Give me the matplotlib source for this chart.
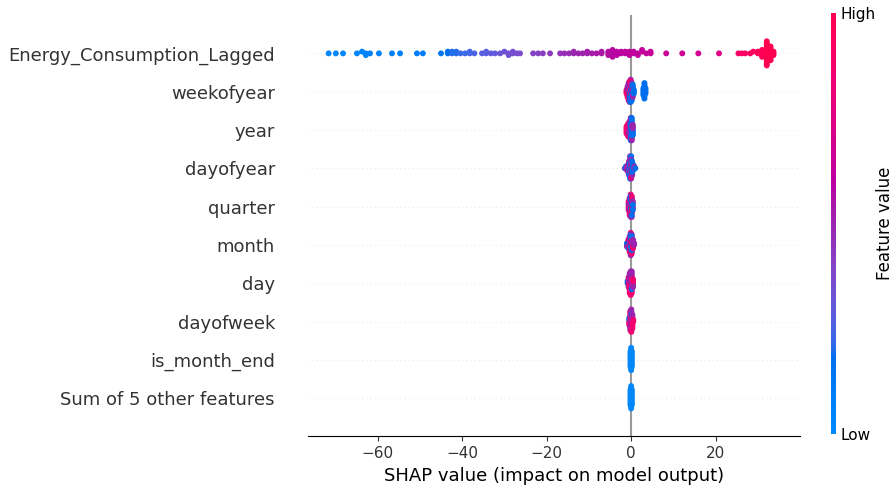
import numpy as np
import matplotlib
matplotlib.use('Agg')
import matplotlib.pyplot as plt
from matplotlib.colors import LinearSegmentedColormap

# Feature names, top row first
features = ['Energy_Consumption_Lagged', 'weekofyear', 'year', 'dayofyear', 'quarter',
            'month', 'day', 'dayofweek', 'is_month_end', 'Sum of 5 other features']

# feature value levels used below (0 = low, 1 = high)
R, P, B, L = 0.85, 0.5, 0.18, 0.02

# each row: (shap value, number of points at that value, feature value)
lagged = [(-71.6, 1, 0.02), (-69.9, 1, 0.02), (-68.2, 1, 0.03), (-64.9, 1, 0.04), (-63.7, 1, 0.05),
          (-62.8, 2, 0.05), (-61.8, 1, 0.06), (-59.7, 1, 0.07), (-56.6, 1, 0.08), (-54.7, 1, 0.08),
          (-50.7, 1, 0.10), (-49.3, 1, 0.10), (-45.0, 1, 0.15), (-43.4, 2, 0.18), (-42.4, 2, 0.20),
          (-41.4, 2, 0.20), (-40.4, 1, 0.22), (-39.3, 1, 0.22), (-38.2, 2, 0.24), (-37.1, 1, 0.25),
          (-35.3, 1, 0.28), (-34.3, 2, 0.28), (-33.2, 1, 0.30), (-32.2, 1, 0.30), (-31.0, 1, 0.32),
          (-30.0, 1, 0.33), (-29.0, 2, 0.34), (-28.0, 2, 0.35), (-27.0, 1, 0.36), (-26.3, 1, 0.36),
          (-23.2, 1, 0.40), (-22.0, 1, 0.41), (-20.9, 1, 0.42), (-19.2, 1, 0.43), (-16.8, 1, 0.46),
          (-15.8, 1, 0.47), (-14.7, 1, 0.48), (-13.6, 2, 0.49), (-12.5, 1, 0.50), (-11.5, 1, 0.50),
          (-10.4, 2, 0.52), (-9.3, 1, 0.53), (-8.2, 1, 0.54), (-7.0, 2, 0.55), (-5.4, 3, 0.57),
          (-4.4, 5, 0.58), (-3.4, 3, 0.59), (-2.4, 2, 0.60), (-1.4, 2, 0.60), (-0.4, 3, 0.61),
          (0.6, 2, 0.62), (1.6, 2, 0.62), (2.6, 2, 0.63), (3.6, 1, 0.63), (4.6, 2, 0.64),
          (8.3, 1, 0.66), (12.1, 1, 0.68), (15.9, 1, 0.70), (20.8, 1, 0.75), (25.4, 1, 0.90),
          (26.2, 1, 0.92), (27.0, 1, 0.93), (28.2, 1, 0.94), (28.9, 1, 0.95), (30.0, 2, 0.97),
          (31.0, 5, 0.98), (32.1, 15, 1.0), (33.0, 9, 1.0), (33.7, 3, 1.0)]
weekofyear = [(-1.1, 3, R), (-0.85, 5, R), (-0.85, 2, P), (-0.6, 6, R), (-0.6, 5, P), (-0.35, 6, P),
              (-0.35, 4, R), (-0.35, 3, B), (-0.1, 6, P), (-0.1, 5, B), (-0.1, 3, R), (0.15, 6, B),
              (0.15, 5, P), (0.4, 5, B), (0.4, 3, P), (0.65, 3, B), (2.9, 5, B), (3.15, 10, B), (3.4, 4, B)]
year = [(-1.1, 5, R), (-0.85, 7, R), (-0.6, 8, R), (-0.6, 1, P), (-0.35, 4, R), (-0.35, 6, P),
        (-0.1, 8, P), (-0.1, 6, B), (0.15, 6, P), (0.15, 8, B), (0.4, 4, B), (0.4, 3, P)]
dayofyear = [(-1.5, 1, P), (-1.25, 2, B), (-1.0, 3, P), (-0.75, 5, P), (-0.5, 7, P), (-0.5, 2, B),
             (-0.25, 8, P), (-0.25, 6, B), (0.0, 7, B), (0.0, 5, P), (0.0, 2, R), (0.25, 6, P),
             (0.25, 3, B), (0.5, 4, B), (0.75, 2, P), (1.0, 1, B)]
quarter = [(-0.6, 4, R), (-0.6, 2, P), (-0.35, 6, R), (-0.35, 5, P), (-0.1, 6, R), (-0.1, 5, P),
           (-0.1, 3, B), (0.15, 6, P), (0.15, 5, R), (0.15, 2, B), (0.4, 4, P), (0.4, 2, B)]
month = [(-1.0, 2, P), (-1.0, 1, B), (-0.65, 4, R), (-0.65, 2, B), (-0.35, 5, R), (-0.35, 5, P),
         (-0.1, 6, R), (-0.1, 5, P), (-0.1, 3, B), (0.15, 5, P), (0.15, 4, R), (0.15, 3, B),
         (0.45, 3, R), (0.45, 3, P), (0.7, 2, P)]
day = [(-0.85, 2, B), (-0.6, 4, R), (-0.6, 2, P), (-0.35, 6, R), (-0.35, 5, P), (-0.1, 7, R),
       (-0.1, 6, P), (0.15, 5, R), (0.15, 6, P), (0.15, 1, B), (0.45, 3, P), (0.45, 2, R)]
dayofweek = [(-0.45, 3, R), (-0.45, 2, B), (-0.2, 7, R), (-0.2, 5, P), (0.05, 6, R), (0.05, 7, P),
             (0.05, 1, B), (0.3, 5, R), (0.3, 4, P), (0.5, 2, R)]
is_month_end = [(-0.15, 10, L), (0.0, 14, L), (0.15, 10, L)]
other = [(-0.15, 10, L), (0.0, 14, L), (0.15, 10, L)]

rows = [lagged, weekofyear, year, dayofyear, quarter, month, day, dayofweek, is_month_end, other]


# shap-style red/blue colormap, interpolated in LCH space
def lch_to_rgb(l, c, h):
    a = c * np.cos(h)
    b = c * np.sin(h)
    fy = (l + 16) / 116
    fx = fy + a / 500
    fz = fy - b / 200

    def finv(t):
        return np.where(t > 0.2068966, t ** 3, (t - 16 / 116) / 7.787)

    X = 0.95047 * finv(fx)
    Y = finv(fy)
    Z = 1.08883 * finv(fz)
    r = 3.24048134 * X - 1.53715152 * Y - 0.49853633 * Z
    g = -0.96925495 * X + 1.87599 * Y + 0.04155593 * Z
    bl = 0.05564664 * X - 0.20404134 * Y + 1.05731107 * Z
    rgb = np.array([r, g, bl])
    rgb = np.where(rgb > 0.0031308, 1.055 * np.abs(rgb) ** (1 / 2.4) - 0.055, 12.92 * rgb)
    return np.clip(rgb, 0, 1)


blue_lch = [54., 70., 4.6588]
red_lch = [54., 90., 0.35470565 + 2 * np.pi]
l_mid = 40.
nsteps = 100
l_vals = list(np.linspace(blue_lch[0], l_mid, nsteps // 2)) + list(np.linspace(l_mid, red_lch[0], nsteps // 2))
c_vals = np.linspace(blue_lch[1], red_lch[1], nsteps)
h_vals = np.linspace(blue_lch[2], red_lch[2], nsteps)
cmap = LinearSegmentedColormap.from_list('red_blue', [lch_to_rgb(l, c, h) for l, c, h in zip(l_vals, c_vals, h_vals)])


# beeswarm vertical offsets (same binning idea as shap)
def swarm(groups, row_height=0.4, nbins=100):
    shaps, vals, mix = [], [], []
    for i, (x, n, v) in enumerate(groups):
        for k in range(n):
            shaps.append(x)
            vals.append(v)
            mix.append((k + 0.5) / n + i * 1e-6)
    shaps = np.array(shaps)
    vals = np.array(vals)
    quant = np.round(nbins * (shaps - shaps.min()) / (shaps.max() - shaps.min() + 1e-8))
    inds = np.lexsort((np.array(mix), quant))
    ys = np.zeros(len(shaps))
    layer = 0
    last_bin = -1
    for ind in inds:
        if quant[ind] != last_bin:
            layer = 0
        ys[ind] = np.ceil(layer / 2) * ((layer % 2) * 2 - 1)
        layer += 1
        last_bin = quant[ind]
    ys *= 0.9 * (row_height / np.max(ys + 1))
    return shaps, ys, vals


fig = plt.figure(figsize=(8.94, 4.86), dpi=100)
ax = fig.add_axes([0.344, 0.102, 0.551, 0.867])
axis_color = '#333333'

n = len(features)
for i, groups in enumerate(rows):
    pos = n - 1 - i
    ax.axhline(y=pos, color='#cccccc', lw=0.5, dashes=(1, 5), zorder=-1)
    shaps, ys, vals = swarm(groups)
    ax.scatter(shaps, pos + ys, c=vals, cmap=cmap, vmin=0, vmax=1, s=18, linewidth=0, zorder=3)

ax.axvline(x=0, color='#999999', zorder=-1)

ax.xaxis.set_ticks_position('bottom')
ax.yaxis.set_ticks_position('none')
ax.spines['right'].set_visible(False)
ax.spines['top'].set_visible(False)
ax.spines['left'].set_visible(False)
ax.tick_params(color=axis_color, labelcolor=axis_color)
ax.set_yticks(range(n))
ax.set_yticklabels(list(reversed(features)), fontsize=13)
ax.tick_params('y', length=20, width=0.5, which='major')
ax.tick_params('x', labelsize=11)
ax.set_ylim(-1, n)
ax.set_xlim(-76.6, 40.0)
ax.set_xticks([-60, -40, -20, 0, 20])
ax.set_xlabel('SHAP value (impact on model output)', fontsize=13)

# colour bar
cax = fig.add_axes([0.9295, 0.107, 0.0056, 0.866])
m = plt.cm.ScalarMappable(cmap=cmap)
m.set_array([0, 1])
cb = fig.colorbar(m, cax=cax, ticks=[0, 1])
cb.set_ticklabels(['Low', 'High'])
cb.set_label('Feature value', size=12, labelpad=0)
cb.ax.tick_params(labelsize=11, length=0)
cb.outline.set_visible(False)

fig.savefig('out.png', dpi=100, facecolor='white')
